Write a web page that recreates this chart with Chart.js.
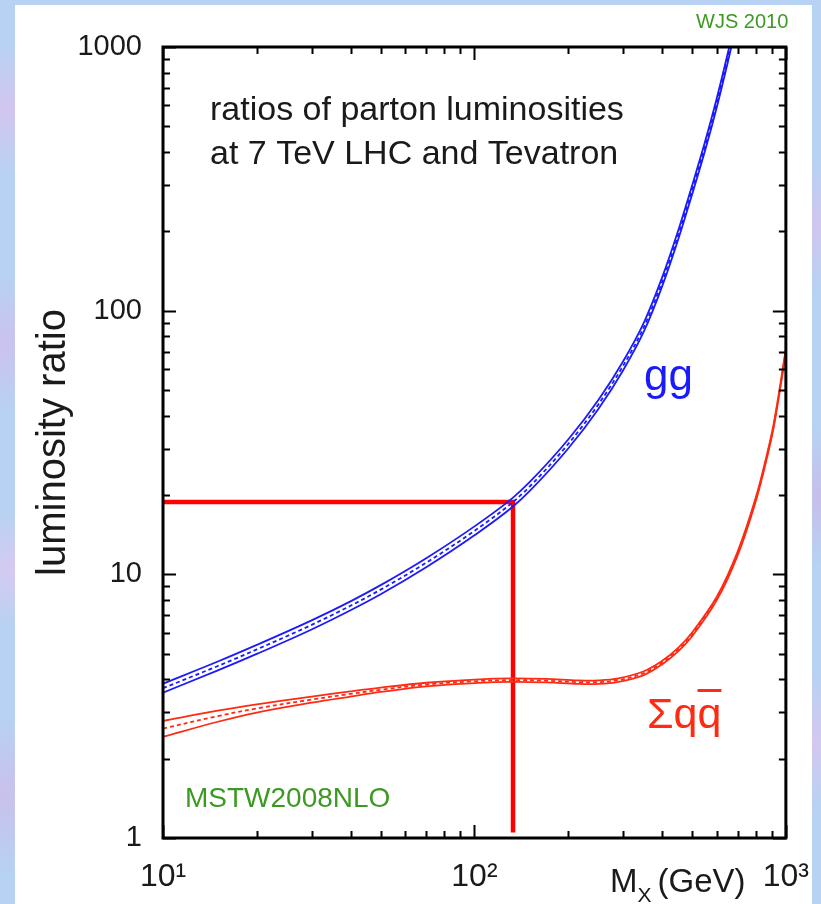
<!DOCTYPE html>
<html>
<head>
<meta charset="utf-8">
<title>ratios of parton luminosities</title>
<script src="https://cdn.jsdelivr.net/npm/chart.js@4.4.1/dist/chart.umd.min.js"></script>
<style>
    html, body { margin: 0; padding: 0; }
    body {
        width: 821px; height: 904px; overflow: hidden; position: relative;
        background-color: #b7d2f3;
        background-image:
            radial-gradient(circle at 1% 12%, rgba(214, 196, 240, 0.9), transparent 6%),
            radial-gradient(circle at 0% 38%, rgba(206, 192, 238, 0.9), transparent 7%),
            radial-gradient(circle at 2% 63%, rgba(220, 200, 242, 0.9), transparent 6%),
            radial-gradient(circle at 0% 88%, rgba(204, 190, 236, 0.9), transparent 7%),
            radial-gradient(circle at 99% 25%, rgba(212, 196, 240, 0.9), transparent 6%),
            radial-gradient(circle at 100% 55%, rgba(200, 188, 236, 0.9), transparent 7%),
            radial-gradient(circle at 99% 82%, rgba(216, 198, 240, 0.9), transparent 6%);
    }
    #panel { position: absolute; left: 15px; top: 5px; width: 797px; height: 899px; background: #fff; }
    #chart { position: absolute; left: 0; top: 0; }
</style>
</head>
<body>
<div id="panel"></div>
<canvas id="chart" width="821" height="904"></canvas>
<script>
// mass points (GeV) and luminosity ratios, LHC 7 TeV / Tevatron
const massGG = [10, 15, 20, 30, 40, 50, 70, 100, 133, 150, 200, 250, 300, 350, 400, 450, 500, 550, 600, 650, 680];
const ggCentral = [3.70, 4.49, 5.19, 6.43, 7.60, 8.75, 11.07, 14.62, 18.8, 21.45, 31.2, 44.1, 61.7, 86.7, 128, 192, 287, 420, 615, 905, 1140];
const ggUpper = [3.85, 4.67, 5.40, 6.69, 7.90, 9.10, 11.51, 15.2, 19.55, 22.31, 32.45, 45.86, 64.17, 90.17, 133.1, 199.7, 298.5, 436.8, 639.6, 941.2, 1185.6];
const ggLower = [3.56, 4.32, 4.99, 6.18, 7.31, 8.41, 10.64, 14.06, 18.08, 20.63, 30.0, 42.4, 59.33, 83.37, 123.1, 184.6, 276, 403.8, 591.3, 870.2, 1096.2];

const massQQ = [10, 15, 20, 30, 40, 50, 70, 100, 133, 170, 216, 250, 290, 350, 400, 450, 500, 600, 700, 800, 875, 920, 1000];
const qqCentral = [2.6, 2.9, 3.1, 3.35, 3.52, 3.65, 3.82, 3.93, 3.97, 3.95, 3.9, 3.9, 3.97, 4.22, 4.62, 5.17, 5.92, 8.1, 12.0, 19.2, 29, 38.3, 70.5];
const qqUpper = [2.78, 3.04, 3.21, 3.44, 3.6, 3.72, 3.88, 3.99, 4.03, 4.01, 3.96, 3.96, 4.03, 4.29, 4.69, 5.25, 6.02, 8.22, 12.2, 19.5, 29.45, 38.9, 71.6];
const qqLower = [2.42, 2.76, 2.99, 3.26, 3.44, 3.58, 3.76, 3.87, 3.91, 3.89, 3.84, 3.84, 3.91, 4.15, 4.55, 5.09, 5.82, 7.98, 11.8, 18.9, 28.55, 37.7, 69.4];

// red guide lines through the gg curve
const guideMass = [10, 133, 133];
const guideRatio = [18.8, 18.8, 1.05];

const xTickValues = [10, 100, 1000];
const xTickLabels = ['10¹', '10²', '10³'];
const yTickValues = [1, 10, 100, 1000];
const yTickLabels = ['1', '10', '100', '1000'];

const BLUE = '#1a1aff';
const RED = '#ff2a12';
const GREEN = '#3c9a22';
const FONT = "'Liberation Sans', Arial, sans-serif";

const pts = (xs, ys) => xs.map((x, i) => ({ x: x, y: ys[i] }));

// one edge (or the dashed centre) of an uncertainty band
function bandLine(xs, ys, color, dashed, smooth) {
    const ds = {
        data: pts(xs, ys),
        borderColor: color,
        borderWidth: 1.8,
        borderDash: dashed ? [4, 3] : [],
        pointRadius: 0,
        fill: false
    };
    if (smooth === 'monotone') ds.cubicInterpolationMode = 'monotone';
    else ds.tension = 0.35;
    return ds;
}

// inside tick marks on all four sides plus the frame
const frameTicks = {
    id: 'frameTicks',
    afterDatasetsDraw(chart) {
        const { ctx, chartArea: a, scales: { x, y } } = chart;
        ctx.save();
        ctx.strokeStyle = '#000';
        ctx.lineWidth = 2;
        ctx.beginPath();
        for (let d = 10; d <= 1000; d *= 10) {
            for (let k = 1; k < 10; k++) {
                const v = d * k;
                if (v > 1000) break;
                const px = Math.round(x.getPixelForValue(v)) + 0.5;
                const len = k === 1 ? 13 : 7;
                ctx.moveTo(px, a.bottom); ctx.lineTo(px, a.bottom - len);
                ctx.moveTo(px, a.top); ctx.lineTo(px, a.top + len);
            }
        }
        for (let d = 1; d <= 1000; d *= 10) {
            for (let k = 1; k < 10; k++) {
                const v = d * k;
                if (v > 1000) break;
                const py = Math.round(y.getPixelForValue(v)) + 0.5;
                const len = k === 1 ? 13 : 7;
                ctx.moveTo(a.left, py); ctx.lineTo(a.left + len, py);
                ctx.moveTo(a.right, py); ctx.lineTo(a.right - len, py);
            }
        }
        ctx.stroke();
        ctx.lineWidth = 3;
        ctx.strokeRect(a.left, a.top, a.right - a.left, a.bottom - a.top);
        ctx.restore();
    }
};

// annotations: plot text, curve names, x-axis title
const labels = {
    id: 'labels',
    afterDraw(chart) {
        const ctx = chart.ctx;
        ctx.save();
        ctx.textBaseline = 'alphabetic';
        ctx.textAlign = 'left';

        ctx.fillStyle = '#1a1a1a';
        ctx.font = '34px ' + FONT;
        ctx.fillText('ratios of parton luminosities', 210, 120);
        ctx.fillText('at 7 TeV LHC and Tevatron', 210, 164);

        ctx.fillStyle = BLUE;
        ctx.font = '44px ' + FONT;
        ctx.fillText('gg', 644, 390);

        ctx.fillStyle = RED;
        ctx.font = '43px ' + FONT;
        ctx.fillText('Σq', 647, 728);
        const qx = 647 + ctx.measureText('Σq').width;
        ctx.fillText('q', qx, 728);
        ctx.fillRect(qx, 689, ctx.measureText('q').width, 3);

        ctx.fillStyle = GREEN;
        ctx.font = '20px ' + FONT;
        ctx.fillText('WJS 2010', 696, 28);
        ctx.font = '28px ' + FONT;
        ctx.fillText('MSTW2008NLO', 185, 807);

        ctx.fillStyle = '#1a1a1a';
        ctx.font = '33px ' + FONT;
        ctx.fillText('M', 610, 892);
        let cx = 610 + ctx.measureText('M').width;
        ctx.font = '21px ' + FONT;
        ctx.fillText('X', cx, 902);
        cx += ctx.measureText('X').width + 6;
        ctx.font = '33px ' + FONT;
        ctx.fillText('(GeV)', cx, 892);
        ctx.restore();
    }
};

new Chart(document.getElementById('chart'), {
    type: 'line',
    data: {
        datasets: [
            bandLine(massGG, ggUpper, BLUE, false, 'monotone'),
            bandLine(massGG, ggCentral, BLUE, true, 'monotone'),
            bandLine(massGG, ggLower, BLUE, false, 'monotone'),
            bandLine(massQQ, qqUpper, RED, false),
            bandLine(massQQ, qqCentral, RED, true),
            bandLine(massQQ, qqLower, RED, false),
            {
                data: pts(guideMass, guideRatio),
                borderColor: '#ff0000',
                borderWidth: 4.5,
                pointRadius: 0,
                tension: 0,
                borderCapStyle: 'butt',
                borderJoinStyle: 'miter',
                fill: false
            }
        ]
    },
    options: {
        responsive: false,
        devicePixelRatio: 1,
        animation: false,
        layout: { padding: { left: 0, top: 47, right: 26, bottom: 0 } },
        plugins: { legend: { display: false }, tooltip: { enabled: false } },
        scales: {
            x: {
                type: 'logarithmic',
                min: 10,
                max: 1000,
                grid: { display: false },
                border: { display: false },
                afterBuildTicks: s => { s.ticks = xTickValues.map(v => ({ value: v })); },
                afterFit: s => { s.height = 66; },
                ticks: {
                    autoSkip: false,
                    maxRotation: 0,
                    padding: 12,
                    color: '#1a1a1a',
                    font: { family: FONT, size: 32 },
                    callback: v => xTickLabels[xTickValues.indexOf(v)]
                }
            },
            y: {
                type: 'logarithmic',
                min: 1,
                max: 1000,
                grid: { display: false },
                border: { display: false },
                afterBuildTicks: s => { s.ticks = yTickValues.map(v => ({ value: v })); },
                afterFit: s => { s.width = 163; },
                ticks: {
                    autoSkip: false,
                    padding: 13,
                    color: '#1a1a1a',
                    font: { family: FONT, size: 29 },
                    callback: v => yTickLabels[yTickValues.indexOf(v)]
                },
                title: {
                    display: true,
                    text: 'luminosity ratio',
                    color: '#1a1a1a',
                    font: { family: FONT, size: 40 },
                    padding: { top: 30, bottom: 0 }
                }
            }
        }
    },
    plugins: [frameTicks, labels]
});
</script>
</body>
</html>
